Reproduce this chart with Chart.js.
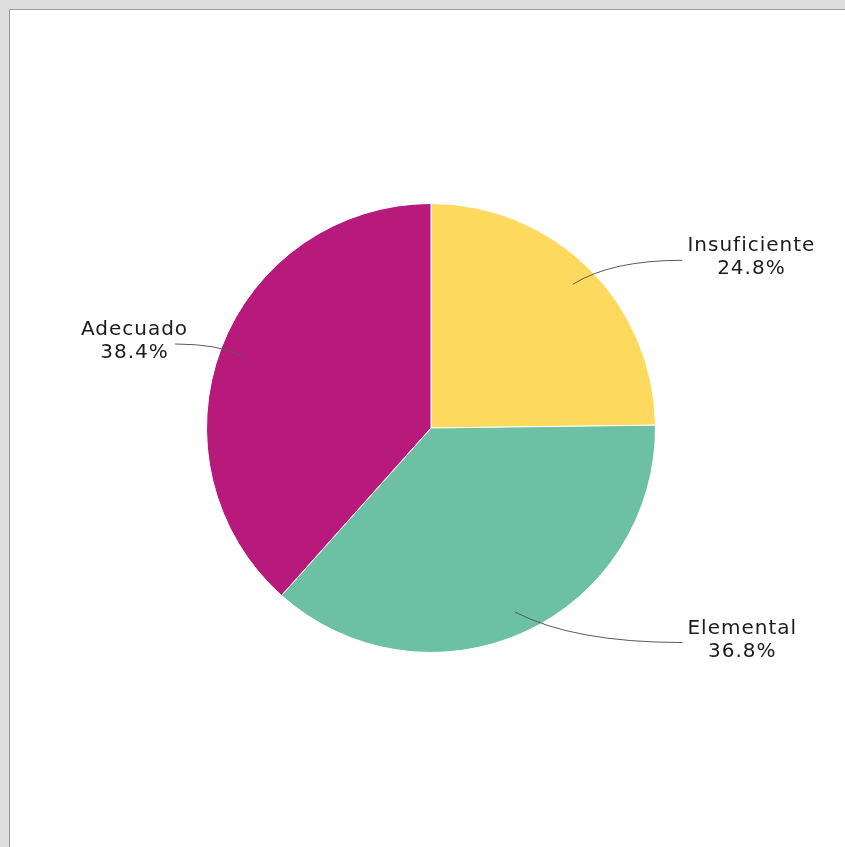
<!DOCTYPE html>
<html>
<head>
<meta charset="utf-8">
<script src="https://cdn.jsdelivr.net/npm/chart.js@4.4.1/dist/chart.umd.min.js"></script>
<style>
  html, body { margin: 0; padding: 0; background: #dedede; }
  #panel {
    position: absolute; left: 9px; top: 9px; width: 836px; height: 838px;
    background: #fff; border-left: 1px solid #9a9a9a; border-top: 1px solid #9a9a9a;
  }
  #chart { display: block; }
</style>
</head>
<body>
<div id="panel"><canvas id="chart" width="835" height="837"></canvas></div>
<script>
const categories = ["Insuficiente", "Elemental", "Adecuado"];
const percents = [24.8, 36.8, 38.4];
const sliceColors = ["#fdda5e", "#6cc0a4", "#b71a7b"];

// labels with curved leader lines, placed from each arc's geometry
const leaderLabels = {
  id: "leaderLabels",
  afterDatasetsDraw(chart) {
    const ctx = chart.ctx;
    const arcs = chart.getDatasetMeta(0).data;
    ctx.save();
    ctx.font = "20px 'DejaVu Sans'";
    ctx.letterSpacing = "1px";
    arcs.forEach((arc, i) => {
      const p = arc.getProps(["x", "y", "startAngle", "endAngle", "outerRadius"], true);
      const a = (p.startAngle + p.endAngle) / 2;
      const r = p.outerRadius;
      const side = Math.cos(a) >= 0 ? 1 : -1;
      const x0 = p.x + Math.cos(a) * 0.9 * r;
      const y0 = p.y + Math.sin(a) * 0.9 * r;
      const ax = p.x + side * (side > 0 ? 1.12 : 1.14) * r;
      const ay = p.y + Math.sin(a) * 1.05 * r;
      const cxp = x0 + (ax - x0) * 0.35;

      ctx.strokeStyle = "#5a5a5a";
      ctx.lineWidth = 1;
      ctx.beginPath();
      ctx.moveTo(x0, y0);
      ctx.quadraticCurveTo(cxp, ay, ax, ay);
      ctx.stroke();

      const lines = [categories[i], percents[i].toFixed(1) + "%"];
      const w = Math.max(...lines.map(t => ctx.measureText(t).width));
      const tx = side > 0 ? ax + 5 + w / 2 : ax + 13 - w / 2;
      ctx.fillStyle = "#1c1c1c";
      ctx.textAlign = "center";
      ctx.textBaseline = "middle";
      ctx.fillText(lines[0], tx, ay - 14);
      ctx.fillText(lines[1], tx, ay + 9);
    });
    ctx.restore();
  }
};

new Chart(document.getElementById("chart"), {
  type: "pie",
  data: {
    labels: categories,
    datasets: [{
      data: percents,
      backgroundColor: sliceColors,
      borderColor: "#ffffff",
      borderWidth: 1
    }]
  },
  options: {
    responsive: false,
    animation: false,
    layout: { padding: { left: 196, right: 189, top: 193, bottom: 194 } },
    plugins: { legend: { display: false }, tooltip: { enabled: false } }
  },
  plugins: [leaderLabels]
});
</script>
</body>
</html>
